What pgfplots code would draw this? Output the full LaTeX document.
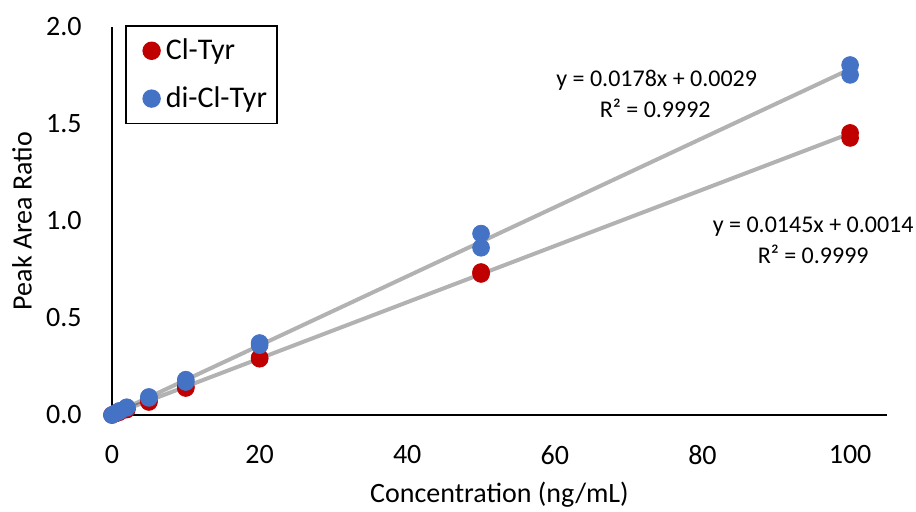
\documentclass[border=0pt]{standalone}
\usepackage{fontspec}
\setmainfont{Carlito}
\usepackage{pgfplots}
\pgfplotsset{compat=1.18}

\definecolor{clred}{HTML}{C00000}
\definecolor{diblue}{HTML}{4472C4}

\begin{document}
\begin{tikzpicture}
% page = 916x512 px at 0.5pt per px, axis box lower left at origin
\path[use as bounding box] (-56pt,-48.5pt) rectangle (402pt,207.5pt);
\begin{axis}[
    at={(0,0)}, anchor=south west,
    scale only axis,
    width=387.5pt, height=194pt,
    xmin=0, xmax=105,
    ymin=0, ymax=2,
    xtick={0,20,40,60,80,100},
    ytick={0,0.5,1,1.5,2},
    yticklabel style={/pgf/number format/.cd, fixed, fixed zerofill, precision=1},
    /pgf/number format/assume math mode=true,
    major tick length=0pt,
    axis x line*=bottom, axis y line*=left,
    axis line style={line width=0.9pt, black},
    every tick label/.append style={inner sep=0pt},
    xticklabel shift=15pt, yticklabel shift=15pt,
    font=\fontsize{14}{16}\selectfont,
    xlabel={Concentration (ng/mL)},
    ylabel={Peak Area Ratio},
    xlabel style={at={(axis description cs:0.5,-0.206)}, anchor=center},
    ylabel style={at={(axis description cs:-0.116,0.5)}, anchor=center},
    clip=false,
    legend cell align=left,
    legend style={at={(axis description cs:0.0168,1.005)}, anchor=north west,
        draw=black, line width=0.8pt, inner xsep=4pt, inner ysep=5.5pt,
        row sep=10pt, column sep=1.5pt, font=\fontsize{15}{17}\selectfont,
        nodes={inner sep=1pt}},
    legend image code/.code={\path (-8.5pt,0pt); \fill[#1] (0pt,0pt) circle (4.2pt);},
]

\addplot[only marks, mark=*, mark size=4.2pt, clred, mark options={draw=clred, fill=clred}]
    coordinates {
    (0,0)(0.5,0.008)(1,0.015)(1,0.016)(2,0.028)(2,0.031)
    (5,0.067)(5,0.072)(10,0.139)(10,0.146)(20,0.290)(20,0.295)
    (50,0.727)(50,0.737)(100,1.428)(100,1.454)
    };
\addlegendentry{Cl-Tyr}

\addplot[only marks, mark=*, mark size=4.2pt, diblue, mark options={draw=diblue, fill=diblue}]
    coordinates {
    (0,0)(0.5,0.010)(1,0.019)(1,0.021)(2,0.037)(2,0.040)
    (5,0.088)(5,0.093)(10,0.170)(10,0.182)(20,0.360)(20,0.371)
    (50,0.862)(50,0.935)(100,1.753)(100,1.804)
    };
\addlegendentry{di-Cl-Tyr}

% linear trendlines (end points of the fitted lines)
\addplot[black, opacity=0.3, line width=2pt, forget plot]
    coordinates {(0,0.0029)(100,1.7829)};
\addplot[black, opacity=0.3, line width=2pt, forget plot]
    coordinates {(0,0.0014)(100,1.4514)};

\node[font=\fontsize{12}{14}\selectfont] at (axis cs:73.8,1.727) {y = 0.0178x + 0.0029};
\node[font=\fontsize{12}{14}\selectfont] at (axis cs:73.6,1.582) {R² = 0.9992};
\node[font=\fontsize{12}{14}\selectfont] at (axis cs:95.0,0.969) {y = 0.0145x + 0.0014};
\node[font=\fontsize{12}{14}\selectfont] at (axis cs:95.0,0.830) {R² = 0.9999};
\end{axis}
\end{tikzpicture}
\end{document}
